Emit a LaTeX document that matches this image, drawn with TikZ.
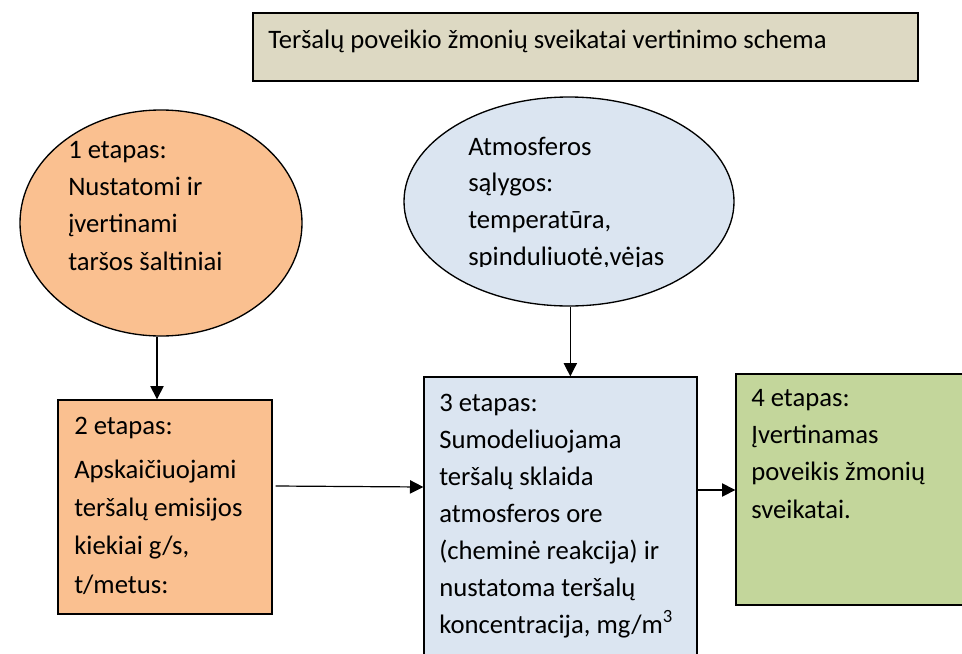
\documentclass[tikz,border=0pt]{standalone}
\usepackage{fontspec}
\setmainfont{Carlito}
\usetikzlibrary{arrows.meta,shapes.geometric}
\definecolor{orangefill}{HTML}{FAC090}
\definecolor{bluefill}{HTML}{DBE5F1}
\definecolor{greenfill}{HTML}{C3D69B}
\definecolor{titlefill}{HTML}{DDD9C3}
\tikzset{
  shapeline/.style={draw=black, line width=1pt, inner sep=0pt},
  boxshape/.style={shapeline, rectangle},
  ellshape/.style={shapeline, ellipse},
  txt/.style={anchor=base west, align=left, inner sep=0pt, font=\fontsize{20}{27.8}\selectfont},
  arr/.style={-{Triangle[length=10pt,width=10pt]}, line width=0.9pt},
}
\begin{document}
\begin{tikzpicture}[x=0.75pt,y=-0.75pt]
\useasboundingbox (0,0) rectangle (962,653);
\clip (0,0) rectangle (962,653);
\fill[white] (0,0) rectangle (962,653);

% title
\node[boxshape, fill=titlefill, minimum width=498.75pt, minimum height=51pt] (title) at (585.5,47) {};
\node[txt] (titletxt) at (268,48) {Teršalų poveikio žmonių sveikatai vertinimo schema};

% ellipse 1 (anchor at baseline of last line)
\node[ellshape, fill=orangefill, minimum width=211.5pt, minimum height=169.5pt] (ell1) at (161,223) {};
\node[txt] (ell1txt) at (68,270) {1 etapas:\\Nustatomi ir\\įvertinami\\taršos šaltiniai};

% ellipse 2
\node[ellshape, fill=bluefill, minimum width=247.5pt, minimum height=156.75pt] (ell2) at (569,201.5) {};
\begin{scope}
\clip (400,90) rectangle (740,266.5);
\node[txt, font=\fontsize{20}{27.5}\selectfont] (ell2txt) at (468,265) {Atmosferos\\sąlygos:\\temperatūra,\\spinduliuotė,vėjas};
\end{scope}

% box 2
\node[boxshape, fill=orangefill, minimum width=160.5pt, minimum height=160.5pt] (box2) at (165,507) {};
\node[txt, font=\fontsize{20}{28.7}\selectfont] (box2txt) at (74,593) {2 etapas:\\[4.3pt]Apskaičiuojami\\teršalų emisijos\\kiekiai g/s,\\t/metus:};

% box 3
\node[boxshape, fill=bluefill, minimum width=204.75pt, minimum height=234.75pt] (box3) at (560.5,533.5) {};
\node[txt, font=\fontsize{20}{27.7}\selectfont] (box3txt) at (439,633) {3 etapas:\\Sumodeliuojama\\teršalų sklaida\\atmosferos ore\\(cheminė reakcija) ir\\nustatoma teršalų\\koncentracija, mg/m\textsuperscript{3}};

% box 4
\node[boxshape, fill=greenfill, minimum width=190.5pt, minimum height=173.25pt] (box4) at (863,489.5) {};
\node[txt] (box4txt) at (751,518) {4 etapas:\\Įvertinamas\\poveikis žmonių\\sveikatai.};

% connectors
\draw[arr] ([xshift=-3pt]ell1.south) -- ([xshift=-3pt]ell1.south |- box2.north);
\draw[arr] ([xshift=1pt]ell2.south) -- ([xshift=1pt]ell2.south |- box3.north);
\draw[arr] ([xshift=2.25pt]box2.east |- 0,486) -- (box3.west |- 0,487);
\draw[arr] (box3.east |- 0,490) -- (box4.west |- 0,490);
\end{tikzpicture}
\end{document}
